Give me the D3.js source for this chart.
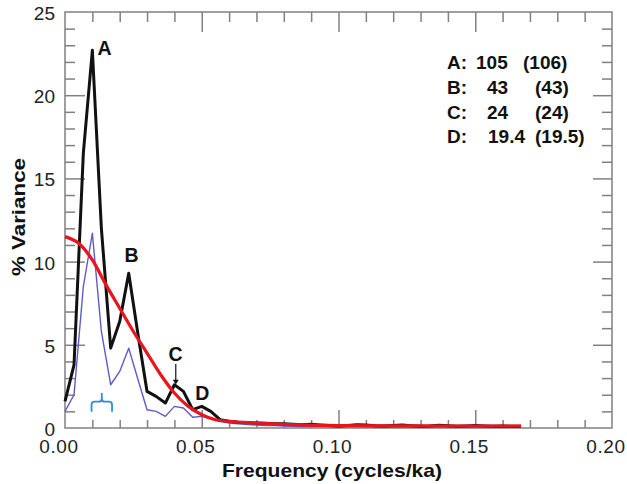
<!DOCTYPE html>
<html>
<head>
<meta charset="utf-8">
<script src="https://cdn.jsdelivr.net/npm/d3@7"></script>
<style>
  body { margin: 0; background: #fff; }
  svg { display: block; font-family: "Liberation Sans", Arial, sans-serif; }
</style>
</head>
<body>
<div id="chart"></div>
<script>
// spectrum sampled every 1/300 cycles/ka
var freq = [0, 0.0033, 0.0067, 0.01, 0.0133, 0.0167, 0.02, 0.0233, 0.0267, 0.03,
  0.0333, 0.0367, 0.04, 0.0433, 0.0467, 0.05, 0.0533, 0.0567, 0.06, 0.0633,
  0.0667, 0.07, 0.0733, 0.0767, 0.08, 0.0833, 0.0867, 0.09, 0.0933, 0.0967,
  0.1, 0.1033, 0.1067, 0.11, 0.1133, 0.1167, 0.12, 0.1233, 0.1267, 0.13,
  0.1333, 0.1367, 0.14, 0.1433, 0.1467, 0.15, 0.1533, 0.1567, 0.16, 0.1633, 0.1667];

var varianceBlack = [1.6, 3.8, 16.5, 22.7, 12.0, 4.8, 6.4, 9.3, 5.6, 2.2,
  1.9, 1.5, 2.6, 2.2, 1.1, 1.3, 1.0, 0.5, 0.4, 0.35,
  0.32, 0.3, 0.28, 0.26, 0.25, 0.22, 0.2, 0.22, 0.18, 0.15,
  0.12, 0.15, 0.2, 0.18, 0.14, 0.12, 0.15, 0.18, 0.14, 0.1,
  0.12, 0.16, 0.14, 0.1, 0.12, 0.15, 0.12, 0.1, 0.12, 0.1, 0.1];

var varianceBlue = [1.0, 2.0, 8.5, 11.7, 5.8, 2.6, 3.4, 4.8, 2.9, 1.1,
  1.0, 0.7, 1.3, 1.2, 0.65, 0.7, 0.6, 0.4, 0.3, 0.25,
  0.2, 0.18, 0.15, 0.14, 0.12, 0.1, 0.09, 0.1, 0.08, 0.07,
  0.06, 0.07, 0.08, 0.07, 0.06, 0.05, 0.06, 0.07, 0.06, 0.05,
  0.05, 0.06, 0.06, 0.05, 0.05, 0.06, 0.05, 0.05, 0.05, 0.05, 0.05];

// red-noise background
var redFreq = [0, 0.005, 0.01, 0.015, 0.02, 0.025, 0.03, 0.035, 0.04, 0.045,
  0.05, 0.055, 0.06, 0.07, 0.08, 0.1, 0.12, 0.14, 0.1668];
var redVariance = [11.5, 11.1, 10.1, 8.6, 7.2, 5.8, 4.5, 3.2, 2.1, 1.3,
  0.8, 0.5, 0.4, 0.3, 0.22, 0.15, 0.13, 0.12, 0.12];

var xTicks = [0, 0.05, 0.1, 0.15, 0.2];
var xTickLabels = ["0.00", "0.05", "0.10", "0.15", "0.20"];
var yTicks = [0, 5, 10, 15, 20, 25];

var peakNames = ["A", "B", "C", "D"];
var peakFreq = [0.0145, 0.0243, 0.0404, 0.0502];
var peakLevel = [22.4, 10.0, 4.0, 1.7];

var legendNames = ["A:", "B:", "C:", "D:"];
var legendPeriods = ["105", "43", "24", "19.4"];
var legendAlt = ["(106)", "(43)", "(24)", "(19.5)"];

var bandFreq = [0.0097, 0.0172];

var W = 627, H = 484;
var margin = {top: 12, right: 15, bottom: 56, left: 65};

var x = d3.scaleLinear().domain([0, 0.2]).range([margin.left, W - margin.right]);
var y = d3.scaleLinear().domain([0, 25]).range([H - margin.bottom, margin.top]);

var svg = d3.select("#chart").append("svg")
  .attr("width", W)
  .attr("height", H);

var frameColor = "#808080";

// ticks, all pointing inward
var minorX = d3.range(1, 20).map(d => d / 100).filter(d => d % 0.05 > 0.001 && d % 0.05 < 0.049);
var majorX = [0.05, 0.1, 0.15];
var minorY = d3.range(1, 25).filter(d => d % 5 != 0);
var majorY = [5, 10, 15, 20];

function tickAxis(axis, pos, vals, len) {
  var g = svg.append("g")
    .attr("transform", pos)
    .call(axis.tickValues(vals).tickSize(-len).tickFormat(""));
  g.select(".domain").remove();
  g.selectAll("line").attr("stroke", frameColor).attr("stroke-width", 1.5);
}

tickAxis(d3.axisBottom(x), "translate(0," + y(0) + ")", minorX, 8);
tickAxis(d3.axisBottom(x), "translate(0," + y(0) + ")", majorX, 18);
tickAxis(d3.axisTop(x), "translate(0," + y(25) + ")", minorX, 10);
tickAxis(d3.axisTop(x), "translate(0," + y(25) + ")", majorX, 20);
tickAxis(d3.axisLeft(y), "translate(" + x(0) + ",0)", minorY, 10);
tickAxis(d3.axisLeft(y), "translate(" + x(0) + ",0)", majorY, 20);
tickAxis(d3.axisRight(y), "translate(" + x(0.2) + ",0)", minorY, 10);
tickAxis(d3.axisRight(y), "translate(" + x(0.2) + ",0)", majorY, 19);

svg.append("rect")
  .attr("x", x(0))
  .attr("y", y(25))
  .attr("width", x(0.2) - x(0))
  .attr("height", y(0) - y(25))
  .attr("fill", "none")
  .attr("stroke", frameColor)
  .attr("stroke-width", 1.5);

// tick labels
svg.append("g").selectAll("text")
  .data(xTicks)
  .enter().append("text")
  .attr("x", d => x(d) - 6)
  .attr("y", 453)
  .attr("text-anchor", "middle")
  .style("font-size", "19px")
  .style("letter-spacing", "0.6px")
  .attr("fill", "#222")
  .text((d, i) => xTickLabels[i]);

svg.append("g").selectAll("text")
  .data(yTicks)
  .enter().append("text")
  .attr("x", 55)
  .attr("y", d => y(d) + 8)
  .attr("text-anchor", "end")
  .style("font-size", "19px")
  .attr("fill", "#222")
  .text(d => d);

// axis titles
svg.append("text")
  .attr("x", 332)
  .attr("y", 477)
  .attr("text-anchor", "middle")
  .attr("textLength", 220)
  .attr("lengthAdjust", "spacingAndGlyphs")
  .style("font-size", "18.5px")
  .style("font-weight", "bold")
  .attr("fill", "#111")
  .text("Frequency (cycles/ka)");

svg.append("text")
  .attr("transform", "translate(25,217) rotate(-90)")
  .attr("text-anchor", "middle")
  .attr("textLength", 118)
  .attr("lengthAdjust", "spacingAndGlyphs")
  .style("font-size", "18.5px")
  .style("font-weight", "bold")
  .attr("fill", "#111")
  .text("% Variance");

// spectra
var line = d3.line()
  .x((d, i) => x(freq[i]))
  .y(d => y(d));

svg.append("path")
  .datum(varianceBlue)
  .attr("d", line)
  .attr("fill", "none")
  .attr("stroke", "#5b5bd0")
  .attr("stroke-width", 1.4)
  .attr("stroke-linejoin", "round");

svg.append("path")
  .datum(varianceBlack)
  .attr("d", line)
  .attr("fill", "none")
  .attr("stroke", "#111")
  .attr("stroke-width", 3)
  .attr("stroke-linejoin", "round");

var redLine = d3.line()
  .x((d, i) => x(redFreq[i]))
  .y(d => y(d))
  .curve(d3.curveMonotoneX);

svg.append("path")
  .datum(redVariance)
  .attr("d", redLine)
  .attr("fill", "none")
  .attr("stroke", "#e8151c")
  .attr("stroke-width", 3.2);

// bandwidth bracket
var bx0 = x(bandFreq[0]), bx1 = x(bandFreq[1]), bxm = (bx0 + bx1) / 2;
var by = y(1.58), byEnd = y(0.98), byTop = y(2.1);
svg.append("path")
  .attr("d", "M" + bx0 + "," + byEnd + " L" + bx0 + "," + (by + 3) + " Q" + bx0 + "," + by + " " + (bx0 + 3) + "," + by +
    " L" + (bxm - 3) + "," + by + " Q" + bxm + "," + by + " " + bxm + "," + (by - 3) + " L" + bxm + "," + byTop +
    " M" + bxm + "," + (by - 3) + " Q" + bxm + "," + by + " " + (bxm + 3) + "," + by +
    " L" + (bx1 - 3) + "," + by + " Q" + bx1 + "," + by + " " + bx1 + "," + (by + 3) + " L" + bx1 + "," + byEnd)
  .attr("fill", "none")
  .attr("stroke", "#2b8fd3")
  .attr("stroke-width", 1.8);

// peak labels
svg.append("g").selectAll("text")
  .data(peakNames)
  .enter().append("text")
  .attr("x", (d, i) => x(peakFreq[i]))
  .attr("y", (d, i) => y(peakLevel[i]))
  .attr("text-anchor", "middle")
  .style("font-size", "19.5px")
  .style("font-weight", "bold")
  .attr("fill", "#111")
  .text(d => d);

// arrow under C
var ax = x(0.0405);
svg.append("line")
  .attr("x1", ax).attr("x2", ax)
  .attr("y1", y(3.85)).attr("y2", y(2.75))
  .attr("stroke", "#111")
  .attr("stroke-width", 1.2);
svg.append("path")
  .attr("d", "M" + (ax - 3) + "," + (y(2.9)) + " L" + ax + "," + y(2.62) + " L" + (ax + 3) + "," + y(2.9) + " Z")
  .attr("fill", "#111");

// period table
var legend = svg.append("g")
  .style("font-size", "19px")
  .style("font-weight", "bold")
  .attr("fill", "#111");

var rowY = [69, 94, 119, 143];
var periodX = [476, 487, 487, 488];
var altX = [523, 535, 535, 535];

legend.selectAll(".lname")
  .data(legendNames)
  .enter().append("text")
  .attr("class", "lname")
  .attr("x", 447)
  .attr("y", (d, i) => rowY[i])
  .text(d => d);

legend.selectAll(".lper")
  .data(legendPeriods)
  .enter().append("text")
  .attr("class", "lper")
  .attr("x", (d, i) => periodX[i])
  .attr("y", (d, i) => rowY[i])
  .text(d => d);

legend.selectAll(".lalt")
  .data(legendAlt)
  .enter().append("text")
  .attr("class", "lalt")
  .attr("x", (d, i) => altX[i])
  .attr("y", (d, i) => rowY[i])
  .text(d => d);
</script>
</body>
</html>
